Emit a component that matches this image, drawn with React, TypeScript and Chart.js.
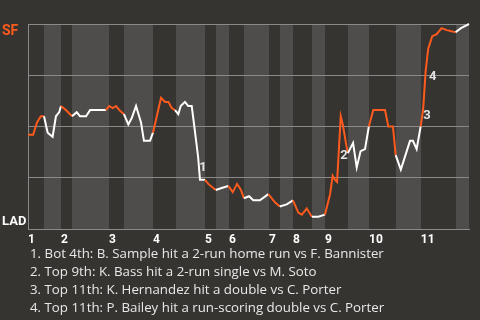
import { useEffect, useRef } from "react";
import { Chart, registerables } from "chart.js";

Chart.register(...registerables);

// Play index (x) and SF win probability (y) after each plate appearance
const playX = [
  0, 1.4, 2.45, 3.5, 4.35, 5.35, 6.7, 7.6, 8.5, 8.98,
  10.3, 11.97, 13.25, 14.15, 15.8, 16.9, 21.2, 22.1, 23.05, 23.95,
  24.85, 26.1, 27.3, 28.2, 29.4, 30.75, 31.55, 33.2, 34.01, 36.2,
  37.3, 38.2, 39.1, 40.0, 40.9, 41.55, 42.7, 43.6, 44.55, 45.4,
  46.3, 46.8, 48.16, 49.05, 51.1, 52.7, 54.5, 55.7, 56.9, 57.95,
  58.75, 60.15, 61.3, 63.1, 65.4, 67.2, 68.5, 70.4, 72.1, 73.55,
  74.5, 75.85, 77.25, 79.0, 80.8, 82.2, 82.9, 83.55, 84.1, 85.1,
  85.65, 86.7, 87.05, 88.45, 89.45, 90.5, 91.7, 92.75, 93.95, 97.15,
  98.05, 99.3, 100.05, 101.45, 103.95, 104.75, 105.75, 106.85, 107.55, 108.2,
  108.9, 110.0, 111.2, 112.55, 113.95, 116.35, 117.8, 118.9, 120,
];
const sfWinProb = [
  0.46, 0.46, 0.52, 0.55, 0.55, 0.47, 0.45, 0.55, 0.57, 0.6,
  0.58, 0.55, 0.57, 0.55, 0.55, 0.58, 0.58, 0.6, 0.59, 0.6,
  0.58, 0.56, 0.51, 0.54, 0.6, 0.52, 0.43, 0.43, 0.47, 0.64,
  0.62, 0.62, 0.59, 0.58, 0.56, 0.6, 0.62, 0.6, 0.6, 0.48,
  0.35, 0.24, 0.24, 0.22, 0.19, 0.2, 0.21, 0.18, 0.22, 0.19,
  0.15, 0.16, 0.14, 0.14, 0.17, 0.13, 0.11, 0.12, 0.14, 0.08,
  0.07, 0.1, 0.06, 0.06, 0.07, 0.17, 0.26, 0.24, 0.23, 0.55,
  0.51, 0.4, 0.37, 0.42, 0.3, 0.38, 0.39, 0.5, 0.58, 0.58,
  0.5, 0.5, 0.36, 0.29, 0.43, 0.43, 0.39, 0.5, 0.59, 0.77,
  0.88, 0.94, 0.95, 0.98, 0.97, 0.96, 0.98, 0.99, 1.0,
];
// End of each half-inning, in play units (top 1, bot 1, top 2, ...)
const halfInningEnds = [
  4.35, 8.98, 11.97, 22.04, 26.12, 34.01, 40.27, 48.16, 51.16, 54.69, 58.78,
  65.58, 68.57, 72.11, 77.28, 80.82, 87.07, 92.79, 100.1, 106.9, 116.4, 120,
];
const inningLabels = ["1", "2", "3", "4", "5", "6", "7", "8", "9", "10", "11"];
const teamTop = "SF";
const teamBottom = "LAD";
const notePoints = [41, 69, 88, 89];
const noteTexts = [
  "1. Bot 4th: B. Sample hit a 2-run home run vs F. Bannister",
  "2. Top 9th: K. Bass hit a 2-run single vs M. Soto",
  "3. Top 11th: K. Hernandez hit a double vs C. Porter",
  "4. Top 11th: P. Bailey hit a run-scoring double vs C. Porter",
];

// styles
const ORANGE = "#fd5a1e";
const WHITE = "#ffffff";
const BG = "#363431";
const BAND = "#4e4d4b";
const GRID = "#8a8a8a";
const FONT = "Roboto";
const NOTE_FONT = "'Open Sans'";
const noteOffsets = [
  [3, -12.5],
  [3.3, 39],
  [3.8, 8],
  [7, 6],
];

function halfIndex(x: number) {
  for (let i = 0; i < halfInningEnds.length; i++) {
    if (x <= halfInningEnds[i] + 1e-9) return i;
  }
  return halfInningEnds.length - 1;
}

const bandsPlugin = {
  id: "bands",
  beforeDraw(chart: any) {
    const { ctx, chartArea, scales } = chart;
    const x = scales.x;
    ctx.save();
    ctx.fillStyle = BG;
    ctx.fillRect(0, 0, chart.width, chart.height);
    ctx.fillStyle = BAND;
    halfInningEnds.forEach((end, i) => {
      if (i % 2 === 1) {
        const start = halfInningEnds[i - 1];
        const x0 = Math.round(x.getPixelForValue(start));
        const x1 = Math.round(x.getPixelForValue(end));
        ctx.fillRect(x0, chartArea.top, x1 - x0, chartArea.bottom - chartArea.top);
      }
    });
    ctx.restore();
  },
};

const labelsPlugin = {
  id: "labels",
  afterDatasetsDraw(chart: any) {
    const { ctx, scales } = chart;
    const x = scales.x;
    const y = scales.y;
    ctx.save();
    ctx.textBaseline = "middle";
    ctx.textAlign = "left";
    ctx.font = `bold 14px ${FONT}`;
    ctx.fillStyle = ORANGE;
    ctx.fillText(teamTop, 2, y.getPixelForValue(1) + 7.5);
    ctx.font = `bold 13px ${FONT}`;
    ctx.fillStyle = WHITE;
    ctx.fillText(teamBottom, 2, y.getPixelForValue(0) - 7.5);
    ctx.font = `bold 13px ${FONT}`;
    ctx.fillStyle = "#e2e2e2";
    ctx.textAlign = "center";
    notePoints.forEach((idx, i) => {
      const px = x.getPixelForValue(playX[idx]) + noteOffsets[i][0];
      const py = y.getPixelForValue(sfWinProb[idx]) + noteOffsets[i][1];
      ctx.fillText(String(i + 1), px, py);
    });
    ctx.restore();
  },
};

export default function App() {
  const ref = useRef<HTMLCanvasElement>(null);
  useEffect(() => {
    document.body.style.margin = "0";
    document.body.style.background = BG;
    const inningStarts = inningLabels.map((_, i) => (i === 0 ? 0 : halfInningEnds[2 * i - 1]));
    const chart = new Chart(ref.current as HTMLCanvasElement, {
      type: "line",
      data: {
        datasets: [
          {
            data: playX.map((x, i) => ({ x, y: sfWinProb[i] })),
            borderWidth: 2,
            pointRadius: 0,
            tension: 0,
            fill: false,
            borderColor: WHITE,
            clip: 4,
            segment: {
              borderColor: (c: any) => (halfIndex(playX[c.p1DataIndex]) % 2 === 0 ? ORANGE : WHITE),
            },
          } as any,
        ],
      },
      options: {
        animation: false,
        responsive: false,
        layout: { padding: { left: 28, top: 24, right: 11, bottom: 71 } },
        plugins: { legend: { display: false }, tooltip: { enabled: false } },
        scales: {
          x: {
            type: "linear",
            min: 0,
            max: 120,
            grid: { display: false, drawTicks: false },
            border: { display: true, color: GRID, width: 1 },
            afterBuildTicks: (s: any) => {
              s.ticks = inningStarts.map((v) => ({ value: v }));
            },
            afterFit: (s: any) => {
              s.height = 20;
            },
            ticks: {
              align: "start",
              autoSkip: false,
              maxRotation: 0,
              padding: 4,
              color: WHITE,
              font: { family: FONT, weight: "bold", size: 12 },
              callback: (_v: any, i: number) => inningLabels[i],
            },
          },
          y: {
            min: 0,
            max: 1,
            ticks: { display: false, stepSize: 0.25 },
            grid: { color: GRID, drawTicks: false },
            border: { display: true, color: GRID },
            afterFit: (s: any) => {
              s.width = 0;
            },
          },
        },
      } as any,
      plugins: [bandsPlugin, labelsPlugin],
    });
    return () => chart.destroy();
  }, []);

  return (
    <div style={{ position: "relative", width: 480, height: 320, background: BG, overflow: "hidden" }}>
      <canvas ref={ref} width={480} height={320} style={{ position: "absolute", left: 0, top: 0 }} />
      <div
        style={{
          position: "absolute",
          left: 30,
          top: 244,
          fontFamily: NOTE_FONT,
          fontSize: 13.3,
          lineHeight: "18px",
          color: "#e8e8e8",
          whiteSpace: "nowrap",
        }}
      >
        {noteTexts.map((t) => (
          <div key={t}>{t}</div>
        ))}
      </div>
    </div>
  );
}
